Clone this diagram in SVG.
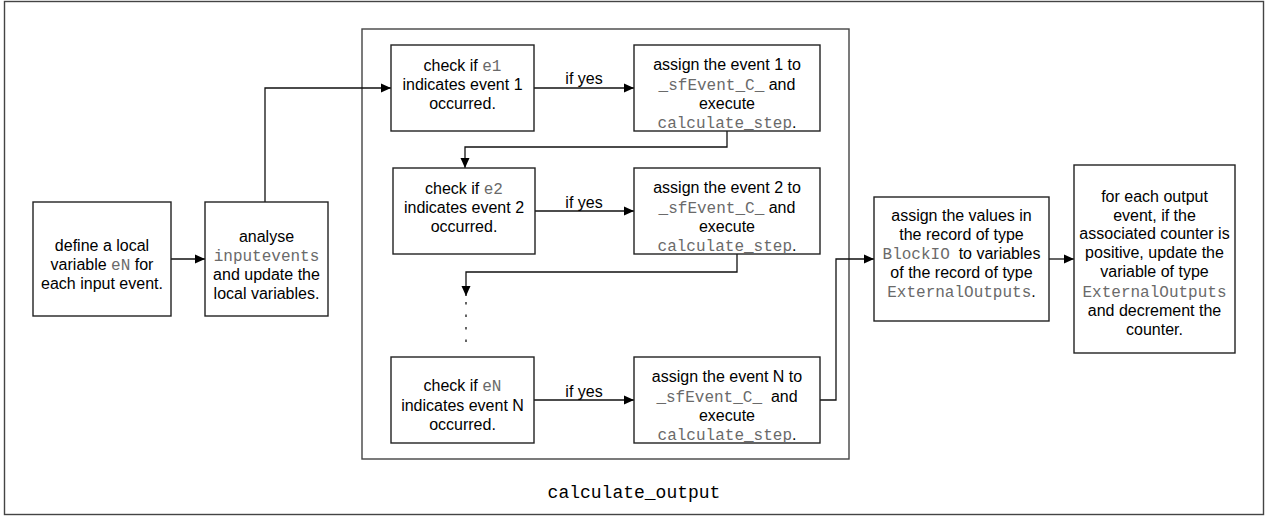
<svg xmlns="http://www.w3.org/2000/svg" width="1266" height="517" viewBox="0 0 1266 517">
<style>
.box{fill:#fff;stroke:#222;stroke-width:1.4}
.frame{fill:none;stroke:#444;stroke-width:1.4}
.t{font-family:"Liberation Sans",Arial,sans-serif;font-size:16px;fill:#000;text-anchor:middle}
.m{font-family:"Liberation Mono","Courier New",monospace;fill:#6a6a6a}
.c{fill:none;stroke:#111;stroke-width:1.3}
</style>
<defs>
<marker id="ah" viewBox="0 0 10 10" refX="10" refY="5" markerWidth="10" markerHeight="10" markerUnits="userSpaceOnUse" orient="auto">
<path d="M0,0.5 L10,5 L0,9.5 Z" fill="#000"/>
</marker>
</defs>
<rect class="frame" x="4.5" y="1.5" width="1259" height="513" fill="#fff"/>
<g id="calculate_output">
<rect class="frame" x="362" y="29" width="487" height="430"/>
<text class="t" x="634" y="498" style="font-family:'Liberation Mono','Courier New',monospace;font-size:18px">calculate_output</text>
</g>
<g id="connectors">
<path class="c" d="M171,259 H205" marker-end="url(#ah)"/>
<path class="c" d="M265,202 V88 H391" marker-end="url(#ah)"/>
<path class="c" d="M534,88 H634" marker-end="url(#ah)"/>
<path class="c" d="M727,131 V147 H465 V168" marker-end="url(#ah)"/>
<path class="c" d="M535,211 H634" marker-end="url(#ah)"/>
<path class="c" d="M737,254 V272 H466 V296" marker-end="url(#ah)"/>
<path class="c" d="M466,302 V342" stroke-dasharray="2.5,10" stroke-width="2.4"/>
<path class="c" d="M534,400 H634" marker-end="url(#ah)"/>
<path class="c" d="M820,400 H836 V259 H874" marker-end="url(#ah)"/>
<path class="c" d="M1049,259 H1074" marker-end="url(#ah)"/>
<text class="t" x="584" y="84">if yes</text>
<text class="t" x="584" y="208">if yes</text>
<text class="t" x="584" y="397">if yes</text>
</g>
<g id="define">
<rect class="box" x="33" y="202" width="138" height="114"/>
<text class="t" x="102" y="251">define a local</text>
<text class="t" x="102" y="270">variable <tspan class="m">eN</tspan> for</text>
<text class="t" x="102" y="289">each input event.</text>
</g>
<g id="analyse">
<rect class="box" x="205" y="202" width="123" height="114"/>
<text class="t" x="266.5" y="242">analyse</text>
<text class="t" x="266.5" y="261"><tspan class="m">inputevents</tspan></text>
<text class="t" x="266.5" y="280">and update the</text>
<text class="t" x="266.5" y="299">local variables.</text>
</g>
<g id="check1">
<rect class="box" x="391" y="45" width="143" height="86"/>
<text class="t" x="462.5" y="71">check if <tspan class="m">e1</tspan></text>
<text class="t" x="462.5" y="90">indicates event 1</text>
<text class="t" x="462.5" y="109">occurred.</text>
</g>
<g id="assign1">
<rect class="box" x="634" y="45" width="186" height="86"/>
<text class="t" x="727" y="70">assign the event 1 to</text>
<text class="t" x="727" y="90"><tspan class="m">_sfEvent_C_</tspan> and</text>
<text class="t" x="727" y="109">execute</text>
<text class="t" x="727" y="128"><tspan class="m">calculate_step</tspan>.</text>
</g>
<g id="check2">
<rect class="box" x="393" y="168" width="142" height="86"/>
<text class="t" x="464" y="194">check if <tspan class="m">e2</tspan></text>
<text class="t" x="464" y="213">indicates event 2</text>
<text class="t" x="464" y="232">occurred.</text>
</g>
<g id="assign2">
<rect class="box" x="634" y="168" width="186" height="86"/>
<text class="t" x="727" y="193">assign the event 2 to</text>
<text class="t" x="727" y="213"><tspan class="m">_sfEvent_C_</tspan> and</text>
<text class="t" x="727" y="232">execute</text>
<text class="t" x="727" y="251"><tspan class="m">calculate_step</tspan>.</text>
</g>
<g id="checkN">
<rect class="box" x="391" y="357" width="143" height="86"/>
<text class="t" x="462.5" y="391">check if <tspan class="m">eN</tspan></text>
<text class="t" x="462.5" y="411">indicates event N</text>
<text class="t" x="462.5" y="430">occurred.</text>
</g>
<g id="assignN">
<rect class="box" x="634" y="357" width="186" height="86"/>
<text class="t" x="727" y="382">assign the event N to</text>
<text class="t" x="727" y="402"><tspan class="m">_sfEvent_C_</tspan>&#160; and</text>
<text class="t" x="727" y="421">execute</text>
<text class="t" x="727" y="440"><tspan class="m">calculate_step</tspan>.</text>
</g>
<g id="assignValues">
<rect class="box" x="874" y="197" width="175" height="124"/>
<text class="t" x="961.5" y="221">assign the values in</text>
<text class="t" x="961.5" y="240">the record of type</text>
<text class="t" x="961.5" y="259"><tspan class="m">BlockIO</tspan>&#160; to variables</text>
<text class="t" x="961.5" y="278">of the record of type</text>
<text class="t" x="961.5" y="297"><tspan class="m">ExternalOutputs</tspan>.</text>
</g>
<g id="updateOutputs">
<rect class="box" x="1074" y="165" width="161" height="188"/>
<text class="t" x="1154.5" y="202">for each output</text>
<text class="t" x="1154.5" y="221">event, if the</text>
<text class="t" x="1154.5" y="239">associated counter is</text>
<text class="t" x="1154.5" y="258">positive, update the</text>
<text class="t" x="1154.5" y="277">variable of type</text>
<text class="t" x="1154.5" y="297"><tspan class="m">ExternalOutputs</tspan></text>
<text class="t" x="1154.5" y="316">and decrement the</text>
<text class="t" x="1154.5" y="335">counter.</text>
</g>
</svg>
